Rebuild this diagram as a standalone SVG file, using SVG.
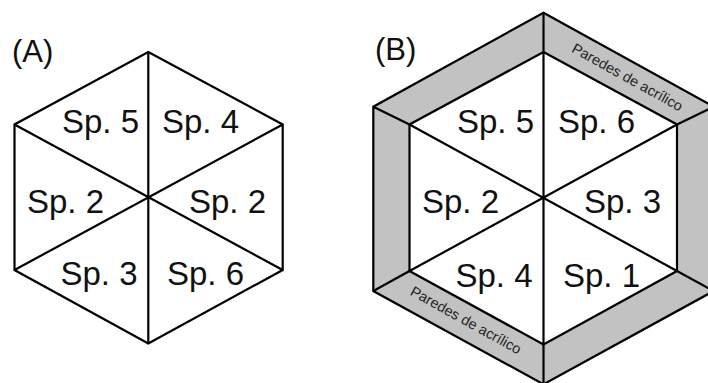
<svg xmlns="http://www.w3.org/2000/svg" width="708" height="383" viewBox="0 0 708 383">
<style>
.ln{stroke:#000;stroke-width:2.2;fill:none;stroke-linejoin:miter}
.white{fill:#fff}
.gray{fill:#c2c2c2}
.lbl{font-family:"Liberation Sans",Arial,sans-serif;font-size:33px;fill:#111}
.pn{font-family:"Liberation Sans",Arial,sans-serif;font-size:31px;fill:#111}
.wall{font-family:"Liberation Sans",Arial,sans-serif;font-size:14.5px;fill:#222;text-anchor:middle}
</style>
<rect width="708" height="383" fill="#fff"/>
<g id="panelA">
  <text class="pn" x="12" y="62">(A)</text>
  <g id="hexA">
    <polygon class="ln white" points="148.3,52 282.7,124.5 282.7,270 148.3,343.5 14.5,270 14.5,124.5" style="fill:#fff"/>
  </g>
  <g id="spokesA" class="ln">
    <line x1="148.3" y1="52" x2="148.3" y2="343.5"/>
    <line x1="14.5" y1="124.5" x2="282.7" y2="270"/>
    <line x1="282.7" y1="124.5" x2="14.5" y2="270"/>
  </g>
  <g id="labelsA">
    <text class="lbl" x="62" y="133">Sp. 5</text>
    <text class="lbl" x="162" y="133">Sp. 4</text>
    <text class="lbl" x="27" y="213">Sp. 2</text>
    <text class="lbl" x="189" y="213">Sp. 2</text>
    <text class="lbl" x="60.5" y="285">Sp. 3</text>
    <text class="lbl" x="167" y="285">Sp. 6</text>
  </g>
</g>
<g id="panelB">
  <text class="pn" x="375" y="60">(B)</text>
  <g id="wallsB">
    <polygon class="ln" points="543.5,12.7 713.7,106.7 713.7,291 543.5,384.3 373.3,291 373.3,106.7" style="fill:#c2c2c2"/>
    <polygon class="ln" points="543.5,52 677,124.5 677,271 543.5,344.5 409.5,271 409.5,124.5" style="fill:#fff"/>
  </g>
  <g id="connectorsB" class="ln">
    <line x1="543.5" y1="12.7" x2="543.5" y2="384.3"/>
    <line x1="409.5" y1="124.5" x2="677" y2="271"/>
    <line x1="677" y1="124.5" x2="409.5" y2="271"/>
    <line x1="373.3" y1="106.7" x2="409.5" y2="124.5"/>
    <line x1="713.7" y1="106.7" x2="677" y2="124.5"/>
    <line x1="373.3" y1="291" x2="409.5" y2="271"/>
    <line x1="713.7" y1="291" x2="677" y2="271"/>
  </g>
  <g id="labelsB">
    <text class="lbl" x="457" y="133">Sp. 5</text>
    <text class="lbl" x="558" y="133">Sp. 6</text>
    <text class="lbl" x="422" y="213">Sp. 2</text>
    <text class="lbl" x="584" y="213">Sp. 3</text>
    <text class="lbl" x="455.5" y="287">Sp. 4</text>
    <text class="lbl" x="563" y="287">Sp. 1</text>
    <text class="wall" transform="translate(625,81.5) rotate(29)">Paredes de acrílico</text>
    <text class="wall" transform="translate(463.5,324.5) rotate(29)">Paredes de acrílico</text>
  </g>
</g>
</svg>
